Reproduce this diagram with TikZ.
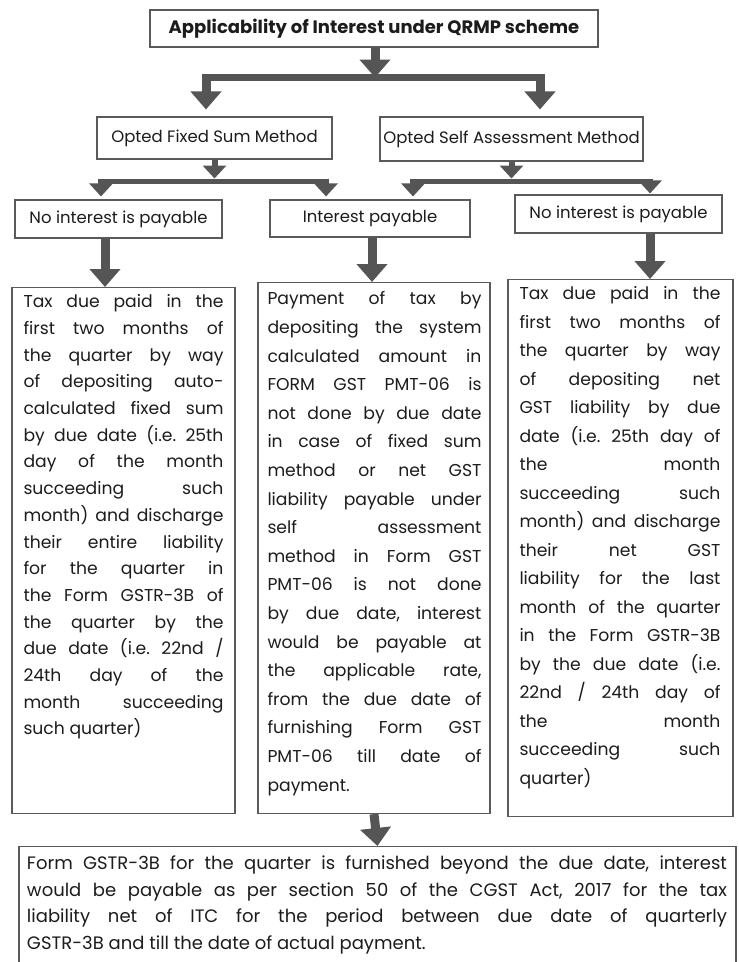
\documentclass[tikz,border=0pt]{standalone}
\usepackage{fontspec}
\setmainfont{Poppins}
\usepackage{xcolor}
\definecolor{qrmpLine}{HTML}{5A5A5A}
\definecolor{qrmpArrow}{HTML}{555555}
\definecolor{qrmpText}{HTML}{1C1C1C}
\usepackage{tikz}
\usetikzlibrary{arrows.meta}
\tolerance=10000
\hbadness=10000
\frenchspacing

\begin{document}
\begin{tikzpicture}[x=1pt, y=-1pt,
  box/.style={draw=qrmpLine, line width=1.1pt, inner sep=0pt, text=qrmpText},
  headbox/.style={box, font=\fontsize{16.5}{20}\selectfont},
  bodytext/.style={inner sep=0pt, text=qrmpText, align=justify, anchor=north},
  bigarrow/.style={draw=qrmpArrow, line width=9pt, -{Triangle[width=30pt,length=18pt]}},
  smallarrow/.style={draw=qrmpArrow, line width=6pt, -{Triangle[width=23pt,length=13pt]}},
  barline/.style={draw=qrmpArrow, line width=#1}]
  \useasboundingbox[fill=white] (0,0) rectangle (739,962);

  % ---- top: scheme and the two methods ----
  \node[headbox, minimum width=448pt, minimum height=37pt, font=\fontsize{18}{20}\selectfont\bfseries]
    (title) at (374,28.5) {Applicability of Interest under QRMP scheme};
  \node[headbox, minimum width=235pt, minimum height=42pt] (fixed) at (214.5,138) {Opted Fixed Sum Method};
  \node[headbox, minimum width=263pt, minimum height=44pt] (self) at (511.5,139) {Opted Self Assessment Method};
  \coordinate (split) at (375,77.5);
  \coordinate (splitL) at (206,77.5);
  \coordinate (splitR) at (540,77.5);
  \draw[bigarrow] (title.south -| split) -- (split);
  \draw[barline=7pt] ([xshift=-4.5pt]splitL) -- ([xshift=4.5pt]splitR);
  \draw[bigarrow] ([yshift=3.5pt]splitL) -- (splitL |- fixed.north) [shorten >=7pt];
  \draw[bigarrow] ([yshift=3.5pt]splitR) -- (splitR |- self.north) [shorten >=7pt];

  % ---- middle: payable or not ----
  \node[headbox, minimum width=207pt, minimum height=38pt] (noleft) at (118.5,219) {No interest is payable};
  \node[headbox, minimum width=200pt, minimum height=37pt] (payable) at (370,218.5) {Interest payable};
  \node[headbox, minimum width=207pt, minimum height=38pt] (noright) at (618.5,214) {No interest is payable};
  \coordinate (fixSplit) at (214.5,178.5);
  \coordinate (fixL) at (101,181);
  \coordinate (fixR) at (326,181);
  \coordinate (selfSplit) at (511.5,178.5);
  \coordinate (selfL) at (413,181);
  \coordinate (selfR) at (650,181);
  \draw[smallarrow] (fixed.south) -- (fixSplit);
  \draw[barline=5pt] ([xshift=-3pt]fixL) -- ([xshift=3pt]fixR);
  \draw[smallarrow] ([yshift=2.5pt]fixL) -- (fixL |- noleft.north) [shorten >=3pt];
  \draw[smallarrow] ([yshift=2.5pt]fixR) -- (fixR |- payable.north) [shorten >=3pt];
  \draw[smallarrow] (self.south) -- (selfSplit);
  \draw[barline=5pt] ([xshift=-3pt]selfL) -- ([xshift=3pt]selfR);
  \draw[smallarrow] ([yshift=2.5pt]selfL) -- (selfL |- payable.north) [shorten >=3pt];
  \draw[smallarrow] ([yshift=2.5pt]selfR) -- (selfR |- noright.north) [shorten >=1pt];

  % ---- details under each case ----
  \node[box, minimum width=223pt, minimum height=526pt, anchor=north] (leftbox) at (123.5,287) {};
  \node[box, minimum width=232pt, minimum height=531pt, anchor=north] (midbox) at (374,282) {};
  \node[box, minimum width=225pt, minimum height=537pt, anchor=north] (rightbox) at (620.5,279) {};
  \draw[bigarrow] (105,0 |- noleft.south) -- (105,0 |- leftbox.north);
  \draw[bigarrow] (372,0 |- payable.south) -- (372,0 |- midbox.north);
  \draw[bigarrow] (650,0 |- noright.south) -- (650,0 |- rightbox.north);

  \node[bodytext, text width=200pt, font=\fontsize{17.2}{26.7}\selectfont] (lefttxt) at (123.5,294.5)
    {Tax due paid in the\linebreak first two months of\linebreak the quarter by way\linebreak
     of depositing auto-\linebreak calculated fixed sum\linebreak by due date (i.e. 25th\linebreak
     day of the month\linebreak succeeding such\linebreak month) and discharge\linebreak
     their entire liability\linebreak for the quarter in\linebreak the Form GSTR-3B of\linebreak
     the quarter by the\linebreak due date (i.e. 22nd /\linebreak 24th day of the\linebreak
     month succeeding\linebreak such quarter)};
  \node[bodytext, text width=214pt, font=\fontsize{17.2}{28.6}\selectfont] (midtxt) at (374.5,291.5)
    {Payment of tax by\linebreak depositing the system\linebreak calculated amount in\linebreak
     FORM GST PMT-06 is\linebreak not done by due date\linebreak in case of fixed sum\linebreak
     method or net GST\linebreak liability payable under\linebreak self assessment\linebreak
     method in Form GST\linebreak PMT-06 is not done\linebreak by due date, interest\linebreak
     would be payable at\linebreak the applicable rate,\linebreak from the due date of\linebreak
     furnishing Form GST\linebreak PMT-06 till date of\linebreak payment.};
  \node[bodytext, text width=201pt, font=\fontsize{17.2}{28.5}\selectfont] (righttxt) at (620,286.5)
    {Tax due paid in the\linebreak first two months of\linebreak the quarter by way\linebreak
     of depositing net\linebreak GST liability by due\linebreak date (i.e. 25th day of\linebreak
     the month\linebreak succeeding such\linebreak month) and discharge\linebreak
     their net GST\linebreak liability for the last\linebreak month of the quarter\linebreak
     in the Form GSTR-3B\linebreak by the due date (i.e.\linebreak 22nd / 24th day of\linebreak
     the month\linebreak succeeding such\linebreak quarter)};

  % ---- late GSTR-3B ----
  \node[box, minimum width=717pt, minimum height=140pt, anchor=north] (late) at (377.5,846) {};
  \draw[bigarrow] (midbox.south) -- (late.north);
  \node[bodytext, text width=700pt, font=\fontsize{18}{26.5}\selectfont] (latetxt) at (377,856)
    {Form GSTR-3B for the quarter is furnished beyond the due date, interest\linebreak
     would be payable as per section 50 of the CGST Act, 2017 for the tax\linebreak
     liability net of ITC for the period between due date of quarterly\linebreak
     GSTR-3B and till the date of actual payment.};
\end{tikzpicture}
\end{document}
